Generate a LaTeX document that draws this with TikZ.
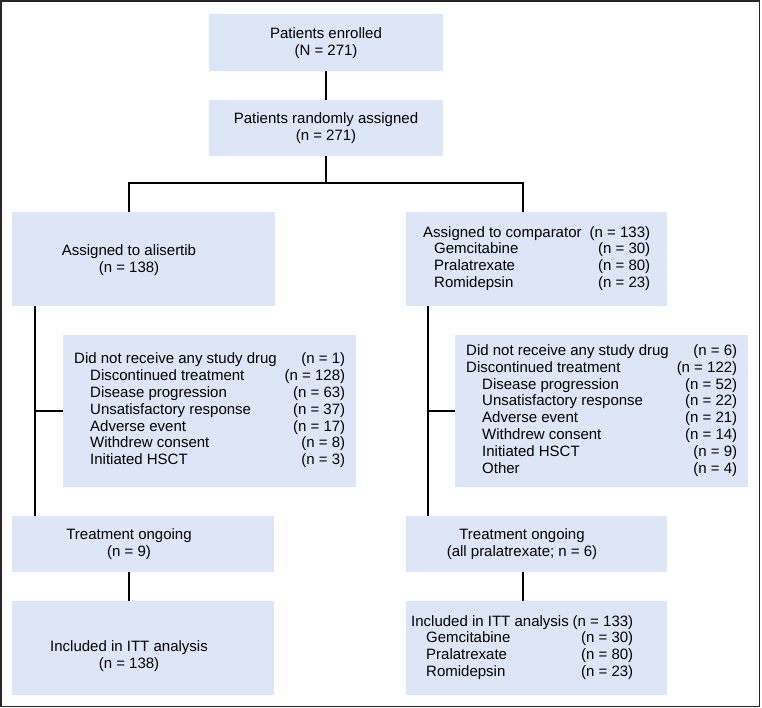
\documentclass[tikz,border=0pt]{standalone}
\usepackage{fontspec}
\setmainfont{Liberation Sans}
\definecolor{boxblue}{RGB}{220,230,246}
\begin{document}
\begin{tikzpicture}[x=1pt,y=-1pt,
  box/.style={fill=boxblue, draw=none, inner sep=0pt, outer sep=0pt, anchor=north west},
  txt/.style={inner sep=0pt, font=\fontsize{15}{16.8}\selectfont, align=center},
  tab/.style={inner sep=0pt, font=\fontsize{15}{16.8}\selectfont, anchor=west},
  conn/.style={line width=2pt, draw=black},
  frame/.style={line width=1.5pt, draw=black!85}]
\useasboundingbox (0,0) rectangle (762,708);
\draw[frame] (1,1) rectangle (759.5,706.5);
% boxes
\node[box, minimum width=234, minimum height=57] (enr) at (209,14) {};
\node[box, minimum width=234, minimum height=56] (rnd) at (209,100) {};
\node[box, minimum width=263, minimum height=94] (ali) at (12,212) {};
\node[box, minimum width=261, minimum height=94] (cmp) at (406,212) {};
\node[box, minimum width=293, minimum height=152] (exL) at (63,335) {};
\node[box, minimum width=293, minimum height=152] (exR) at (455,335) {};
\node[box, minimum width=262, minimum height=56] (trL) at (12,516) {};
\node[box, minimum width=261, minimum height=56] (trR) at (406,516) {};
\node[box, minimum width=262, minimum height=94] (itL) at (12,601) {};
\node[box, minimum width=261, minimum height=94] (itR) at (406,601) {};
% texts
\node[txt] (tEnr) at (326,43) {Patients enrolled\\(N = 271)};
\node[txt] (tRnd) at (326,128) {Patients randomly assigned\\(n = 271)};
\node[txt] (tAli) at (129,260) {Assigned to alisertib\\(n = 138)};
\node[tab] (tCmp) at (423,259) {\begin{tabular*}{227pt}{@{}l@{\extracolsep{\fill}}r@{}}
Assigned to comparator & (n = 133)\\
\hspace*{11pt}Gemcitabine & (n = 30)\\
\hspace*{11pt}Pralatrexate & (n = 80)\\
\hspace*{11pt}Romidepsin & (n = 23)
\end{tabular*}};
\node[tab] (tExL) at (74,411) {\begin{tabular*}{271pt}{@{}l@{\extracolsep{\fill}}r@{}}
Did not receive any study drug & (n = 1)\\
\hspace*{16pt}Discontinued treatment & (n = 128)\\
\hspace*{16pt}Disease progression & (n = 63)\\
\hspace*{16pt}Unsatisfactory response & (n = 37)\\
\hspace*{16pt}Adverse event & (n = 17)\\
\hspace*{16pt}Withdrew consent & (n = 8)\\
\hspace*{16pt}Initiated HSCT & (n = 3)
\end{tabular*}};
\node[tab] (tExR) at (466,411) {\begin{tabular*}{271pt}{@{}l@{\extracolsep{\fill}}r@{}}
Did not receive any study drug & (n = 6)\\
Discontinued treatment & (n = 122)\\
\hspace*{16pt}Disease progression & (n = 52)\\
\hspace*{16pt}Unsatisfactory response & (n = 22)\\
\hspace*{16pt}Adverse event & (n = 21)\\
\hspace*{16pt}Withdrew consent & (n = 14)\\
\hspace*{16pt}Initiated HSCT & (n = 9)\\
\hspace*{16pt}Other & (n = 4)
\end{tabular*}};
\node[txt] (tTrL) at (129,544) {Treatment ongoing\\(n = 9)};
\node[txt] (tItL) at (129,656) {Included in ITT analysis\\(n = 138)};
\node[txt] (tTrR) at (522,544) {Treatment ongoing\\(all pralatrexate; n = 6)};
\node[tab] (tItR) at (411,648) {\begin{tabular*}{222pt}{@{}l@{\extracolsep{\fill}}r@{}}
Included in ITT analysis & (n = 133)\\
\hspace*{15pt}Gemcitabine & (n = 30)\\
\hspace*{15pt}Pralatrexate & (n = 80)\\
\hspace*{15pt}Romidepsin & (n = 23)
\end{tabular*}};
% connectors
\coordinate (jL) at (129,183);
\coordinate (jR) at (523,183);
\coordinate (vL) at (35,0);
\coordinate (vR) at (428,0);
\draw[conn] (enr.south) -- (rnd.north);
\draw[conn] (rnd.south) -- (rnd.south |- jL);
\draw[conn] ([xshift=-1pt]jL) -- ([xshift=1pt]jR);
\draw[conn] (jL) -- (jL |- ali.north);
\draw[conn] (jR) -- (jR |- cmp.north);
\draw[conn] (vL |- ali.south) -- (vL |- trL.north);
\draw[conn] (vL |- exL.west) -- (exL.west);
\draw[conn] (vR |- cmp.south) -- (vR |- trR.north);
\draw[conn] (vR |- exR.west) -- (exR.west);
\draw[conn] (jL |- trL.south) -- (jL |- itL.north);
\draw[conn] (jR |- trR.south) -- (jR |- itR.north);
\end{tikzpicture}
\end{document}
